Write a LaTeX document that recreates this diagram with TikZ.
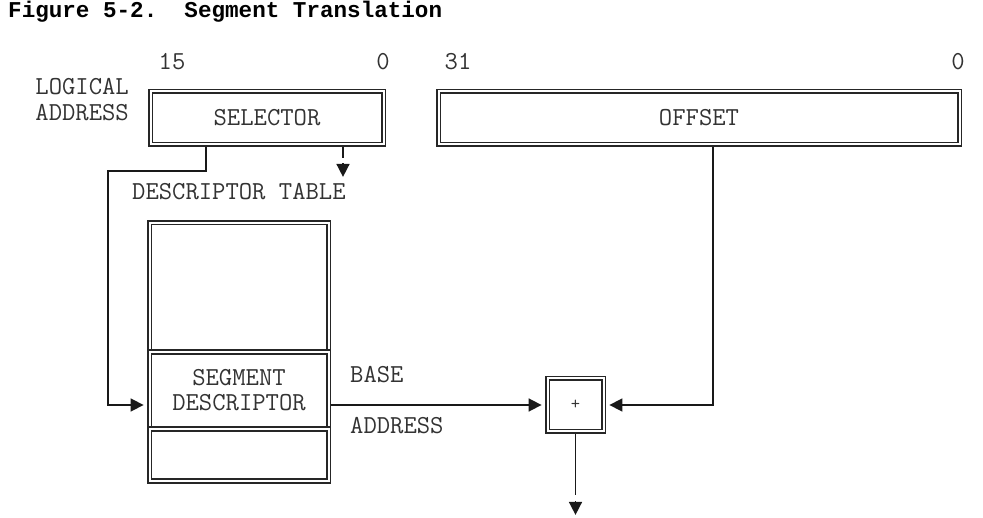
\documentclass[tikz,border=0pt]{standalone}
\usepackage{fontspec}
\newfontfamily\ttlfont{Liberation Mono}
\usetikzlibrary{arrows.meta}

\tikzset{
  dbox/.style={draw=black!85, double, double distance=2pt, line width=1.9pt,
    inner sep=0pt, outer sep=2.9pt},
  lbl/.style={font=\ttfamily\fontsize{25.9}{25}\selectfont, text=black!80, inner sep=0pt},
  ttl/.style={font=\ttlfont\bfseries\fontsize{22.6}{25}\selectfont, text=black, inner sep=0pt},
  wire/.style={line width=1.6pt, draw=black!90},
  arr/.style={wire, -{Triangle[length=13pt,width=13pt]}, shorten >=3pt},
}

\begin{document}
\begin{tikzpicture}[x=1pt, y=-1pt]
  \useasboundingbox (0,0) rectangle (983,518);

  % title
  \node[ttl, anchor=mid west] (title) at (8,15) {Figure 5-2.\ \ Segment Translation};

  % logical address
  \node[lbl, anchor=mid] (hi16) at (172,67) {15};
  \node[lbl, anchor=mid] (lo16) at (383,67) {0};
  \node[lbl, anchor=mid] (hi32) at (458,67) {31};
  \node[lbl, anchor=mid] (lo32) at (958,67) {0};
  \node[lbl, anchor=mid east] (logl) at (129,92) {LOGICAL};
  \node[lbl, anchor=mid east] (laddr) at (129,118) {ADDRESS};

  \node[dbox, lbl, minimum width=233pt, minimum height=53pt] (sel) at (267,118) {SELECTOR};
  \node[dbox, lbl, minimum width=521pt, minimum height=53pt] (off) at (699,118) {OFFSET};

  % descriptor table
  \node[lbl, anchor=mid west] (dtlbl) at (132,197) {DESCRIPTOR TABLE};
  \node[dbox, minimum width=179pt, minimum height=129.4pt] (dtop) at (239,287.3) {};
  \node[dbox, lbl, align=center, minimum width=179pt, minimum height=77pt] (segd) at (239,390.5) {SEGMENT\\DESCRIPTOR};
  \node[dbox, minimum width=179pt, minimum height=52pt] (dbot) at (239,455) {};

  % adder
  \node[dbox, font=\ttfamily\fontsize{18}{18}\selectfont, text=black!80,
    minimum width=56pt, minimum height=53pt] (plus) at (575.5,405) {+};
  \node[lbl, anchor=mid west] (base) at (350,380) {BASE};
  \node[lbl, anchor=mid west] (baddr) at (350,431) {ADDRESS};

  % connectors
  \coordinate (bend) at (108,171);
  \draw[arr] ([xshift=-61pt]sel.south) |- (bend) |- (segd.west |- plus);
  \draw[wire] ([xshift=76pt]sel.south) -- ++(0,11) coordinate (selgap);
  \draw[arr, shorten >=0pt] ([yshift=-5pt]selgap) -- ++(0,13.5);
  \draw[arr] ([xshift=14pt]off.south) |- (plus.east);
  \draw[arr] (segd.east |- plus) -- (plus.west);
  \draw[wire] (plus.south) -- ++(0,61) coordinate (outgap);
  \draw[arr, shorten >=0pt] ([yshift=-6pt]outgap) -- ++(0,13.5);
\end{tikzpicture}
\end{document}
